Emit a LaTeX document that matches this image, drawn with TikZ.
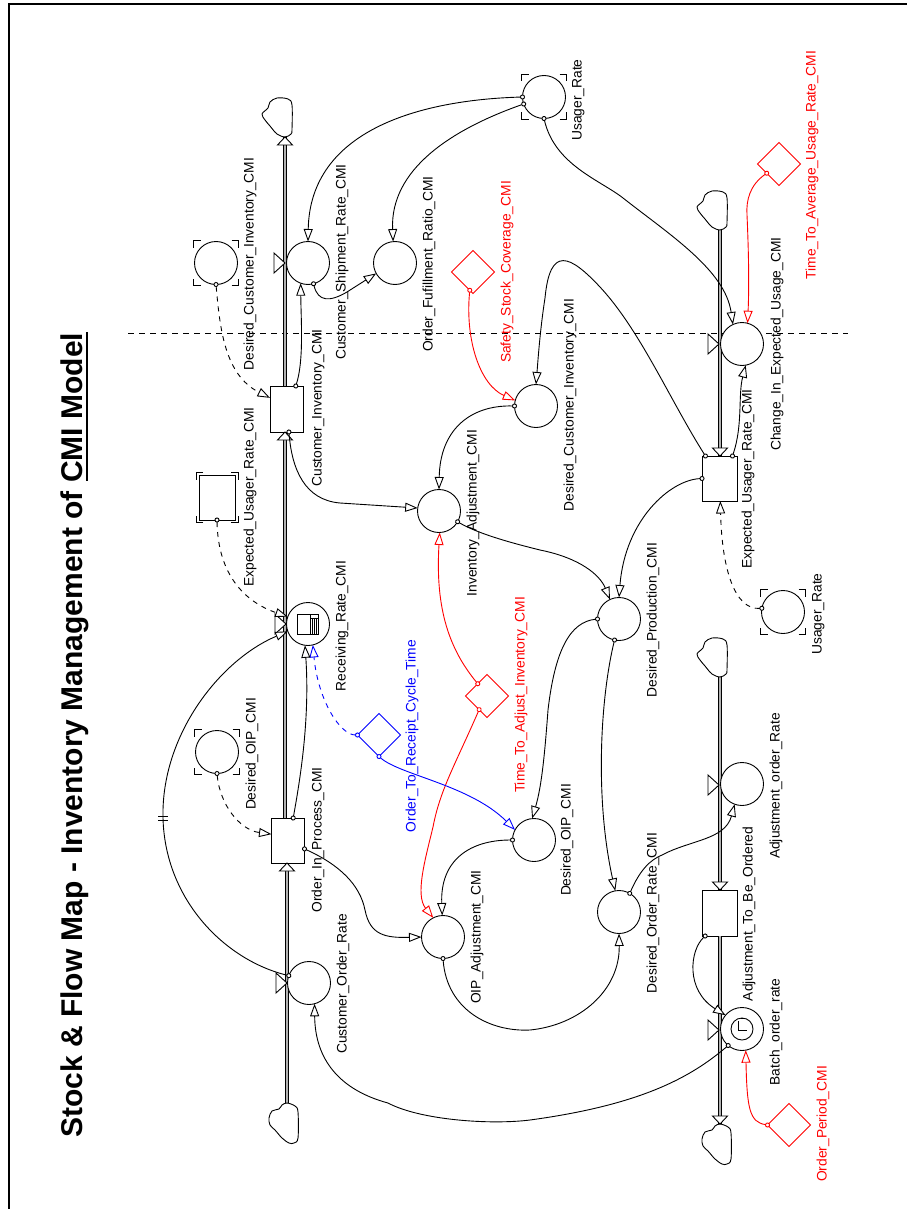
\documentclass[tikz,border=0pt]{standalone}
\usepackage{fontspec}
\setmainfont{Liberation Sans}
\usetikzlibrary{arrows.meta,shapes.geometric}
\definecolor{flowred}{RGB}{255,0,0}
\definecolor{flowblue}{RGB}{0,0,255}
\tikzset{
  thin line/.style={line width=.9pt},
  aux/.style={circle,draw,thin line,fill=white,minimum size=43pt,inner sep=0pt,outer sep=0pt},
  param/.style={diamond,shape aspect=1,draw,thin line,fill=white,minimum size=43pt,inner sep=0pt,outer sep=0pt},
  stockbox/.style={rectangle,draw,thin line,fill=white,inner sep=0pt,outer sep=0pt},
  lbl/.style={rotate=90,font=\fontsize{13.8}{15}\selectfont,inner sep=0pt,text height=10pt,text depth=3pt},
  conn/.style={thin line,{Circle[open,length=5pt,width=5pt,fill=white]}-{Triangle[open,length=12.5pt,width=9pt,fill=white]},shorten <=-2.5pt},
  dconn/.style={conn,dash pattern=on 5pt off 5pt},
  pipe/.style={line width=1pt,double=white!70!black,double distance=1.4pt},
  pipehead/.style={thin line,fill=white},
  valvetri/.style={thin line,fill=white},
  cloudline/.style={thin line,fill=white},
  ghostmark/.style={line width=1pt},
}
\newcommand{\ghostmarks}[3]{%
  \foreach \sx in {-1,1}\foreach \sy in {-1,1}{%
    \draw[ghostmark,shift={(#1.center)}] ({\sx*(#2-7)},{\sy*#3}) -- ({\sx*#2},{\sy*#3}) -- ({\sx*#2},{\sy*(#3-7)});}}
\newcommand{\valveat}[1]{\draw[valvetri,shift={(#1)}] (-11,-10) -- (-11,10) -- (0,0) -- cycle;}
\newcommand{\headup}[1]{\draw[pipehead,shift={(#1)}] (0,0) -- (7.5,8) -- (-7.5,8) -- cycle;}
\newcommand{\headdown}[1]{\draw[pipehead,shift={(#1)}] (0,0) -- (7.5,-8) -- (-7.5,-8) -- cycle;}
\newcommand{\cloudup}[1]{\draw[cloudline,shift={(#1)}] plot[smooth cycle,tension=.55] coordinates {(0,0) (6,-3) (7,-8) (7,-32) (3,-38) (-8,-39) (-15,-35) (-17,-29) (-23,-23) (-20,-17) (-15,-11) (-8,-3)};}
\newcommand{\clouddown}[1]{\draw[cloudline,shift={(#1)}] plot[smooth cycle,tension=.55] coordinates {(0,0) (8,3) (11,9) (11,35) (7,40) (2,40) (-5,35) (-12,27) (-17,22) (-18,15) (-15,8) (-8,6) (-5,2)};}
\begin{document}
\begin{tikzpicture}[x=1pt,y=-1pt]
\useasboundingbox (0,0) rectangle (907,1209);
\draw[line width=2pt] (9,1209) -- (9,4) -- (907,4);
\node[rotate=90,anchor=base west,inner sep=0pt,font=\fontsize{30}{32}\bfseries\selectfont] (title) at (82,1138) {Stock \& Flow Map - Inventory Management of CMI Model};
\draw[line width=1.7pt] (87,332) -- (87,481);
\coordinate (dashL) at (128,333);
\coordinate (dashR) at (848,333);
\draw[thin line,dash pattern=on 6pt off 5pt] (dashL) -- (dashR);
% cloud anchors
\coordinate (c1) at (285,137);
\coordinate (c2) at (287,1103);
\coordinate (c3) at (720,230);
\coordinate (c4) at (720,677);
\coordinate (c5) at (720,1124);
% stocks
\node[stockbox,minimum width=33pt,minimum height=46pt] (cinv) at (286.5,409) {};
\node[stockbox,minimum width=33pt,minimum height=45pt] (oips) at (288,840.5) {};
\node[stockbox,minimum width=35pt,minimum height=45pt] (eur) at (719.5,478.5) {};
\node[stockbox,minimum width=35pt,minimum height=46pt] (atb) at (719.5,913) {};
% pipes
\draw[pipe] (c1) -- (cinv.north -| c1);
\draw[pipe] (cinv.south -| c1) -- (oips.north -| c1);
\draw[pipe] (c2) -- (oips.south -| c2);
\draw[pipe] (c3) -- (eur.north -| c3);
\draw[pipe] (c4) -- (atb.north -| c4);
\draw[pipe] (atb.south -| c5) -- (c5);
\cloudup{c1}\cloudup{c3}\cloudup{c4}
\clouddown{c2}\clouddown{c5}
\headup{c1}
\headup{cinv.south -| c1}
\headup{oips.south -| c2}
\headdown{eur.north -| c3}
\headdown{atb.north -| c4}
\headdown{c5}
% valves
\valveat{285,263}\valveat{719,344}\valveat{286,624}\valveat{719,785}\valveat{287,983}\valveat{719,1030}
% auxiliaries
\node[aux] (usr) at (544,97) {};
\node[aux] (csr) at (308,263) {};
\node[aux] (ofr) at (395,263) {};
\node[aux] (gdci) at (216,263) {};
\node[aux] (dci) at (536,406) {};
\node[aux] (chg) at (742,344) {};
\node[aux] (ia) at (439,511) {};
\node[aux] (rr) at (308,624) {};
\node[aux] (goip) at (217,752) {};
\node[aux] (doip) at (534,840) {};
\node[aux] (dp) at (619,619) {};
\node[aux] (gusr) at (783,612) {};
\node[aux] (aor) at (742,784) {};
\node[aux] (dor) at (619,912) {};
\node[aux] (bor) at (742,1029) {};
\node[aux] (oa) at (443,937) {};
\node[aux] (cor) at (309,983) {};
\node[stockbox,minimum width=36pt,minimum height=45pt] (geur) at (217,497.5) {};
\ghostmarks{usr}{22.5}{22.5}
\ghostmarks{gdci}{22.5}{22.5}
\ghostmarks{goip}{22.5}{22.5}
\ghostmarks{gusr}{22.5}{22.5}
\ghostmarks{geur}{21}{25}
% constants
\node[param,draw=flowred] (saf) at (473,272) {};
\node[param,draw=flowred] (tim) at (779,164) {};
\node[param,draw=flowblue] (ort) at (379,735) {};
\node[param,draw=flowred] (tta) at (487,696) {};
\node[param,draw=flowred] (opd) at (789,1125) {};
% icons
\draw[thin line] (297,614) rectangle (318,634);
\draw[thin line] (310,614) -- (310,634);
\foreach \xx in {312,314,316}{\draw[line width=.7pt] (\xx,618) -- (\xx,634);}
\draw[thin line] (310,618) -- (318,618);
\node[circle,draw,thin line,minimum size=22pt,inner sep=0pt] (clock) at (742,1029) {};
\draw[thin line] (738,1021) -- (738,1030) -- (747,1030);
\draw[line width=1.4pt] (741,1018.5) -- (745,1018.5);
% connectors
\draw[conn] (usr.180) .. controls (420,100) and (310,130) .. (csr.90);
\draw[conn] (usr.199) .. controls (450,130) and (390,170) .. (ofr.95);
\draw[conn] (usr.270) .. controls (555,165) and (600,180) .. (623,198) .. controls (670,235) and (725,270) .. (chg.115);
\draw[conn] (csr.285) .. controls (318,302) and (330,302) .. (347,292) -- (ofr.209);
\draw[conn] (cinv.68) .. controls (304,360) and (301,320) .. (csr.250);
\draw[dconn] (gdci.270) .. controls (220,330) and (225,375) .. (cinv.146);
\draw[conn,flowred] (saf.260) .. controls (465,340) and (480,385) .. (dci.165);
\draw[conn] (dci.180) .. controls (470,405) and (440,430) .. (ia.90);
\draw[conn] (eur.122) .. controls (670,400) and (640,330) .. (600,287) .. controls (570,255) and (550,245) .. (545,298) .. controls (540,330) and (538,360) .. (dci.90);
\draw[conn] (eur.60) .. controls (743,425) and (738,395) .. (chg.280);
\draw[conn,flowred] (tim.217) .. controls (750,185) and (746,200) .. (747,215) .. controls (749,260) and (749,290) .. (chg.75);
\draw[conn] (eur.180) .. controls (670,480) and (625,520) .. (dp.90);
\draw[dconn] (gusr.170) .. controls (735,610) and (722,570) .. (eur.272);
\draw[conn] (ia.-30) .. controls (480,535) and (520,545) .. (540,550) .. controls (580,558) and (600,575) .. (dp.115);
\draw[conn] (cinv.276) .. controls (292,470) and (305,500) .. (340,503) -- (ia.172);
\draw[conn,flowred] (tta.127) .. controls (450,650) and (435,610) .. (ia.272);
\draw[conn,flowred] (tta.240) .. controls (455,765) and (440,790) .. (433,827) .. controls (425,860) and (415,895) .. (oa.117);
\draw[conn,flowblue] (ort.270) .. controls (400,775) and (470,785) .. (doip.152);
\draw[dconn,flowblue] (ort.180) .. controls (340,735) and (318,700) .. (rr.283);
\draw[dconn] (geur.south) .. controls (218,575) and (245,602) .. (rr.160);
\draw[conn] (oips.77) .. controls (300,780) and (310,720) .. (rr.262);
\draw[conn] (cor.160) .. controls (225,960) and (165,900) .. (163,818) .. controls (161,735) and (220,660) .. (rr.200);
\draw[thin line] (158,816) -- (168,816) (158,820) -- (168,820);
\draw[dconn] (goip.270) .. controls (220,805) and (240,830) .. (oips.159);
\draw[conn] (oips.333) .. controls (340,865) and (360,885) .. (365,910) .. controls (370,935) and (385,938) .. (oa.180);
\draw[conn] (doip.180) .. controls (470,840) and (440,860) .. (oa.92);
\draw[conn] (dp.180) .. controls (570,622) and (555,650) .. (548,710) .. controls (545,750) and (542,785) .. (doip.95);
\draw[conn] (dp.258) .. controls (600,700) and (595,800) .. (dor.100);
\draw[conn] (dor.60) .. controls (640,870) and (650,860) .. (662,855) .. controls (690,840) and (725,840) .. (aor.250);
\draw[conn] (oa.270) .. controls (447,1010) and (490,1032) .. (530,1030) .. controls (580,1025) and (620,990) .. (dor.270);
\draw[conn] (atb.238) .. controls (690,950) and (685,990) .. (bor.140);
\draw[conn] (bor.230) .. controls (690,1078) and (640,1105) .. (530,1120) .. controls (490,1125) and (420,1120) .. (388,1103) .. controls (340,1090) and (315,1060) .. (cor.285);
\draw[conn,flowred] (opd.180) .. controls (750,1122) and (747,1110) .. (bor.280);
% labels
\node[lbl] (l01) at (250,264) {Desired\_Customer\_Inventory\_CMI};
\node[lbl] (l02) at (342,262) {Customer\_Shipment\_Rate\_CMI};
\node[lbl] (l03) at (429,264) {Order\_Fufillment\_Ratio\_CMI};
\node[lbl,text=flowred] (l04) at (507,272) {Safety\_Stock\_Coverage\_CMI};
\node[lbl] (l05) at (318,408) {Customer\_Inventory\_CMI};
\node[lbl] (l06) at (250,497) {Expected\_Usager\_Rate\_CMI};
\node[lbl] (l07) at (570,405) {Desired\_Customer\_Inventory\_CMI};
\node[lbl] (l08) at (473,513) {Inventory\_Adjustment\_CMI};
\node[lbl] (l09) at (578,100) {Usager\_Rate};
\node[lbl,text=flowred] (l10) at (812,165) {Time\_To\_Average\_Usage\_Rate\_CMI};
\node[lbl] (l11) at (777,344) {Change\_In\_Expected\_Usage\_CMI};
\node[lbl] (l12) at (748,479) {Expected\_Usager\_Rate\_CMI};
\node[lbl] (l13) at (818,614) {Usager\_Rate};
\node[lbl] (l14) at (653,620) {Desired\_Production\_CMI};
\node[lbl] (l15) at (776,786) {Adjustment\_order\_Rate};
\node[lbl] (l16) at (749,914) {Adjustment\_To\_Be\_Ordered};
\node[lbl] (l17) at (567,840) {Desired\_OIP\_CMI};
\node[lbl] (l18) at (653,913) {Desired\_Order\_Rate\_CMI};
\node[lbl] (l19) at (776,1032) {Batch\_order\_rate};
\node[lbl,text=flowred] (l20) at (823,1124) {Order\_Period\_CMI};
\node[lbl] (l21) at (342,626) {Receiving\_Rate\_CMI};
\node[lbl,text=flowblue] (l22) at (412,736) {Order\_To\_Receipt\_Cycle\_Time};
\node[lbl,text=flowred] (l23) at (521,695) {Time\_To\_Adjust\_Inventory\_CMI};
\node[lbl] (l24) at (252,754) {Desired\_OIP\_CMI};
\node[lbl] (l25) at (318,840) {Order\_In\_Process\_CMI};
\node[lbl] (l26) at (343,984) {Customer\_Order\_Rate};
\node[lbl] (l27) at (477,937) {OIP\_Adjustment\_CMI};
\end{tikzpicture}
\end{document}
